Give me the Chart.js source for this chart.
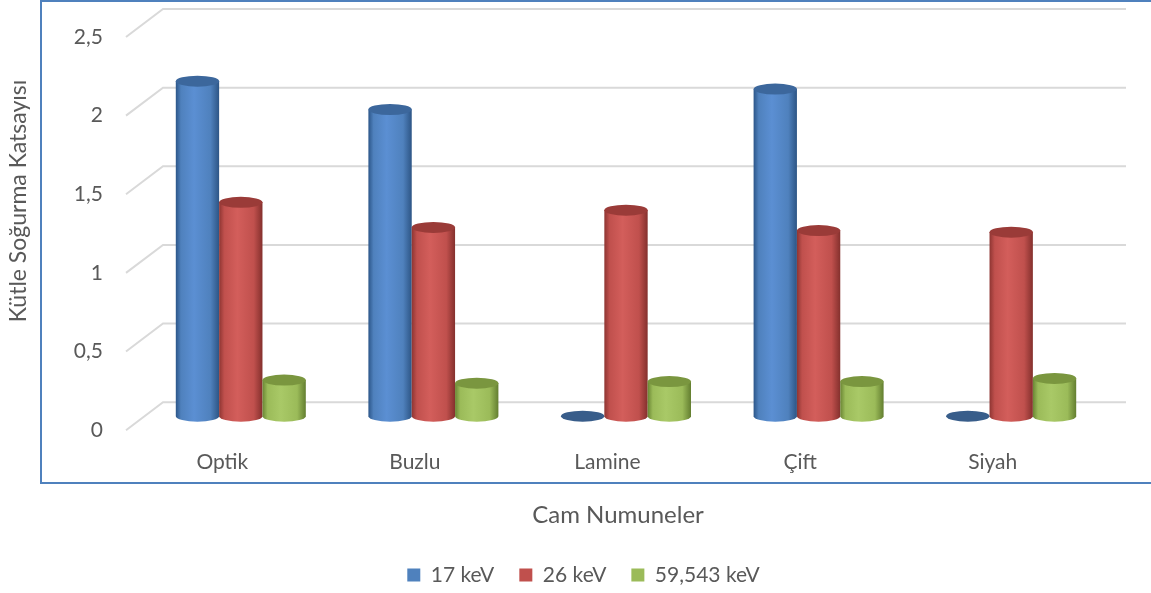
<!DOCTYPE html>
<html>
<head>
<meta charset="utf-8">
<script src="https://cdn.jsdelivr.net/npm/chart.js@4/dist/chart.umd.min.js"></script>
<style>
  html, body { margin: 0; padding: 0; background: #fff; }
  #wrap { width: 1151px; height: 593px; }
</style>
</head>
<body>
<div id="wrap"><canvas id="chart" width="1151" height="593"></canvas></div>
<script>
const categories = ['Optik', 'Buzlu', 'Lamine', 'Çift', 'Siyah'];
const series_names = ['17 keV', '26 keV', '59,543 keV'];
const kev_17 = [2.13, 1.95, 0, 2.08, 0];
const kev_26 = [1.36, 1.20, 1.31, 1.18, 1.17];
const kev_59 = [0.23, 0.21, 0.22, 0.22, 0.24];
const y_ticks = [0, 0.5, 1, 1.5, 2, 2.5];

const y_title = 'Kütle Soğurma Katsayısı';
const x_title = 'Cam Numuneler';

const font_family = 'Lato, "Open Sans", sans-serif';
const text_color = '#595959';

// base colour, then shades for the cylinder body and top
const shades = [
    { base: '#4F81BD', dark: '#2c5689', light: '#5b8fd3', edge: '#2d5585', top: '#3c679c' },
    { base: '#C0504D', dark: '#8e3532', light: '#d35e5b', edge: '#84302d', top: '#9a3b38' },
    { base: '#9BBB59', dark: '#6a8634', light: '#a9c967', edge: '#637e30', top: '#7a963f' }
];

// 3d offset of the back wall from the bar plane
const depth_x = 18.5;
const depth_y = 14;

function draw_cylinder(ctx, x, top, base, w, c) {
    const rx = w / 2;
    const ry = 5.5;
    const left = x - rx;
    const right = x + rx;

    if (base - top < 0.5) {
        ctx.fillStyle = '#385d8a';
        ctx.beginPath();
        ctx.ellipse(x, base, rx, ry, 0, 0, Math.PI * 2);
        ctx.fill();
        return;
    }

    const g = ctx.createLinearGradient(left, 0, right, 0);
    g.addColorStop(0, c.dark);
    g.addColorStop(0.12, c.base);
    g.addColorStop(0.42, c.light);
    g.addColorStop(0.8, c.base);
    g.addColorStop(1, c.edge);

    ctx.fillStyle = g;
    ctx.beginPath();
    ctx.moveTo(left, top);
    ctx.lineTo(left, base);
    ctx.ellipse(x, base, rx, ry, 0, Math.PI, 0, true);
    ctx.lineTo(right, top);
    ctx.closePath();
    ctx.fill();

    ctx.fillStyle = c.top;
    ctx.beginPath();
    ctx.ellipse(x, top, rx, ry, 0, 0, Math.PI * 2);
    ctx.fill();
}

const cylinder_plugin = {
    id: 'cylinders',
    beforeDraw(chart) {
        const ctx = chart.ctx;
        ctx.save();
        ctx.strokeStyle = '#4F81BD';
        ctx.lineWidth = 2;
        ctx.strokeRect(41, 1, 1200, 482);
        ctx.restore();
    },
    beforeDatasetsDraw(chart) {
        const ctx = chart.ctx;
        const area = chart.chartArea;
        const y = chart.scales.y;

        ctx.save();
        ctx.strokeStyle = '#d9d9d9';
        ctx.lineWidth = 2;
        y_ticks.forEach(v => {
            const py = y.getPixelForValue(v);
            ctx.beginPath();
            ctx.moveTo(area.left - depth_x, py + depth_y);
            ctx.lineTo(area.left + depth_x, py - depth_y);
            ctx.lineTo(area.right + depth_x, py - depth_y);
            ctx.stroke();
        });

        for (let j = 0; j < categories.length; j++) {
            chart.data.datasets.forEach((ds, i) => {
                const el = chart.getDatasetMeta(i).data[j];
                draw_cylinder(ctx, el.x, el.y, el.base, el.width, shades[i]);
            });
        }
        ctx.restore();
        return false;
    },
    afterDraw(chart) {
        const ctx = chart.ctx;
        ctx.save();
        ctx.fillStyle = text_color;
        ctx.textAlign = 'center';
        ctx.textBaseline = 'middle';
        ctx.font = '24px ' + font_family;
        ctx.fillText(x_title, 618, 515);
        ctx.font = '23px ' + font_family;
        ctx.translate(19, 201);
        ctx.rotate(-Math.PI / 2);
        ctx.fillText(y_title, 0, 0);
        ctx.restore();
    }
};

new Chart(document.getElementById('chart'), {
    type: 'bar',
    data: {
        labels: categories,
        datasets: [kev_17, kev_26, kev_59].map((values, i) => ({
            label: series_names[i],
            data: values,
            backgroundColor: shades[i].base,
            borderWidth: 0,
            categoryPercentage: 0.675,
            barPercentage: 1
        }))
    },
    options: {
        responsive: false,
        animation: false,
        layout: {
            padding: { left: 59.5, right: 43.5, top: 23, bottom: -2.5 }
        },
        scales: {
            x: {
                grid: { display: false, drawTicks: false },
                border: { display: false },
                ticks: {
                    color: text_color,
                    font: { family: font_family, size: 21 },
                    padding: 33,
                    labelOffset: -depth_x,
                    maxRotation: 0
                },
                afterFit(scale) {
                    scale.height = 123.3;
                    scale.paddingLeft = 0;
                    scale.paddingRight = 0;
                }
            },
            y: {
                min: 0,
                max: 2.5,
                grid: { display: false, drawTicks: false },
                border: { display: false },
                ticks: {
                    stepSize: 0.5,
                    color: text_color,
                    font: { family: font_family, size: 21 },
                    padding: 41.5,
                    labelOffset: depth_y,
                    callback: v => String(v).replace('.', ',')
                },
                afterFit(scale) {
                    scale.width = 85;
                    scale.paddingTop = 0;
                    scale.paddingBottom = 0;
                }
            }
        },
        plugins: {
            legend: {
                position: 'bottom',
                labels: {
                    boxWidth: 13,
                    boxHeight: 13,
                    padding: 25,
                    color: text_color,
                    font: { family: font_family, size: 21 }
                }
            },
            tooltip: { enabled: false }
        }
    },
    plugins: [cylinder_plugin]
});
</script>
</body>
</html>
